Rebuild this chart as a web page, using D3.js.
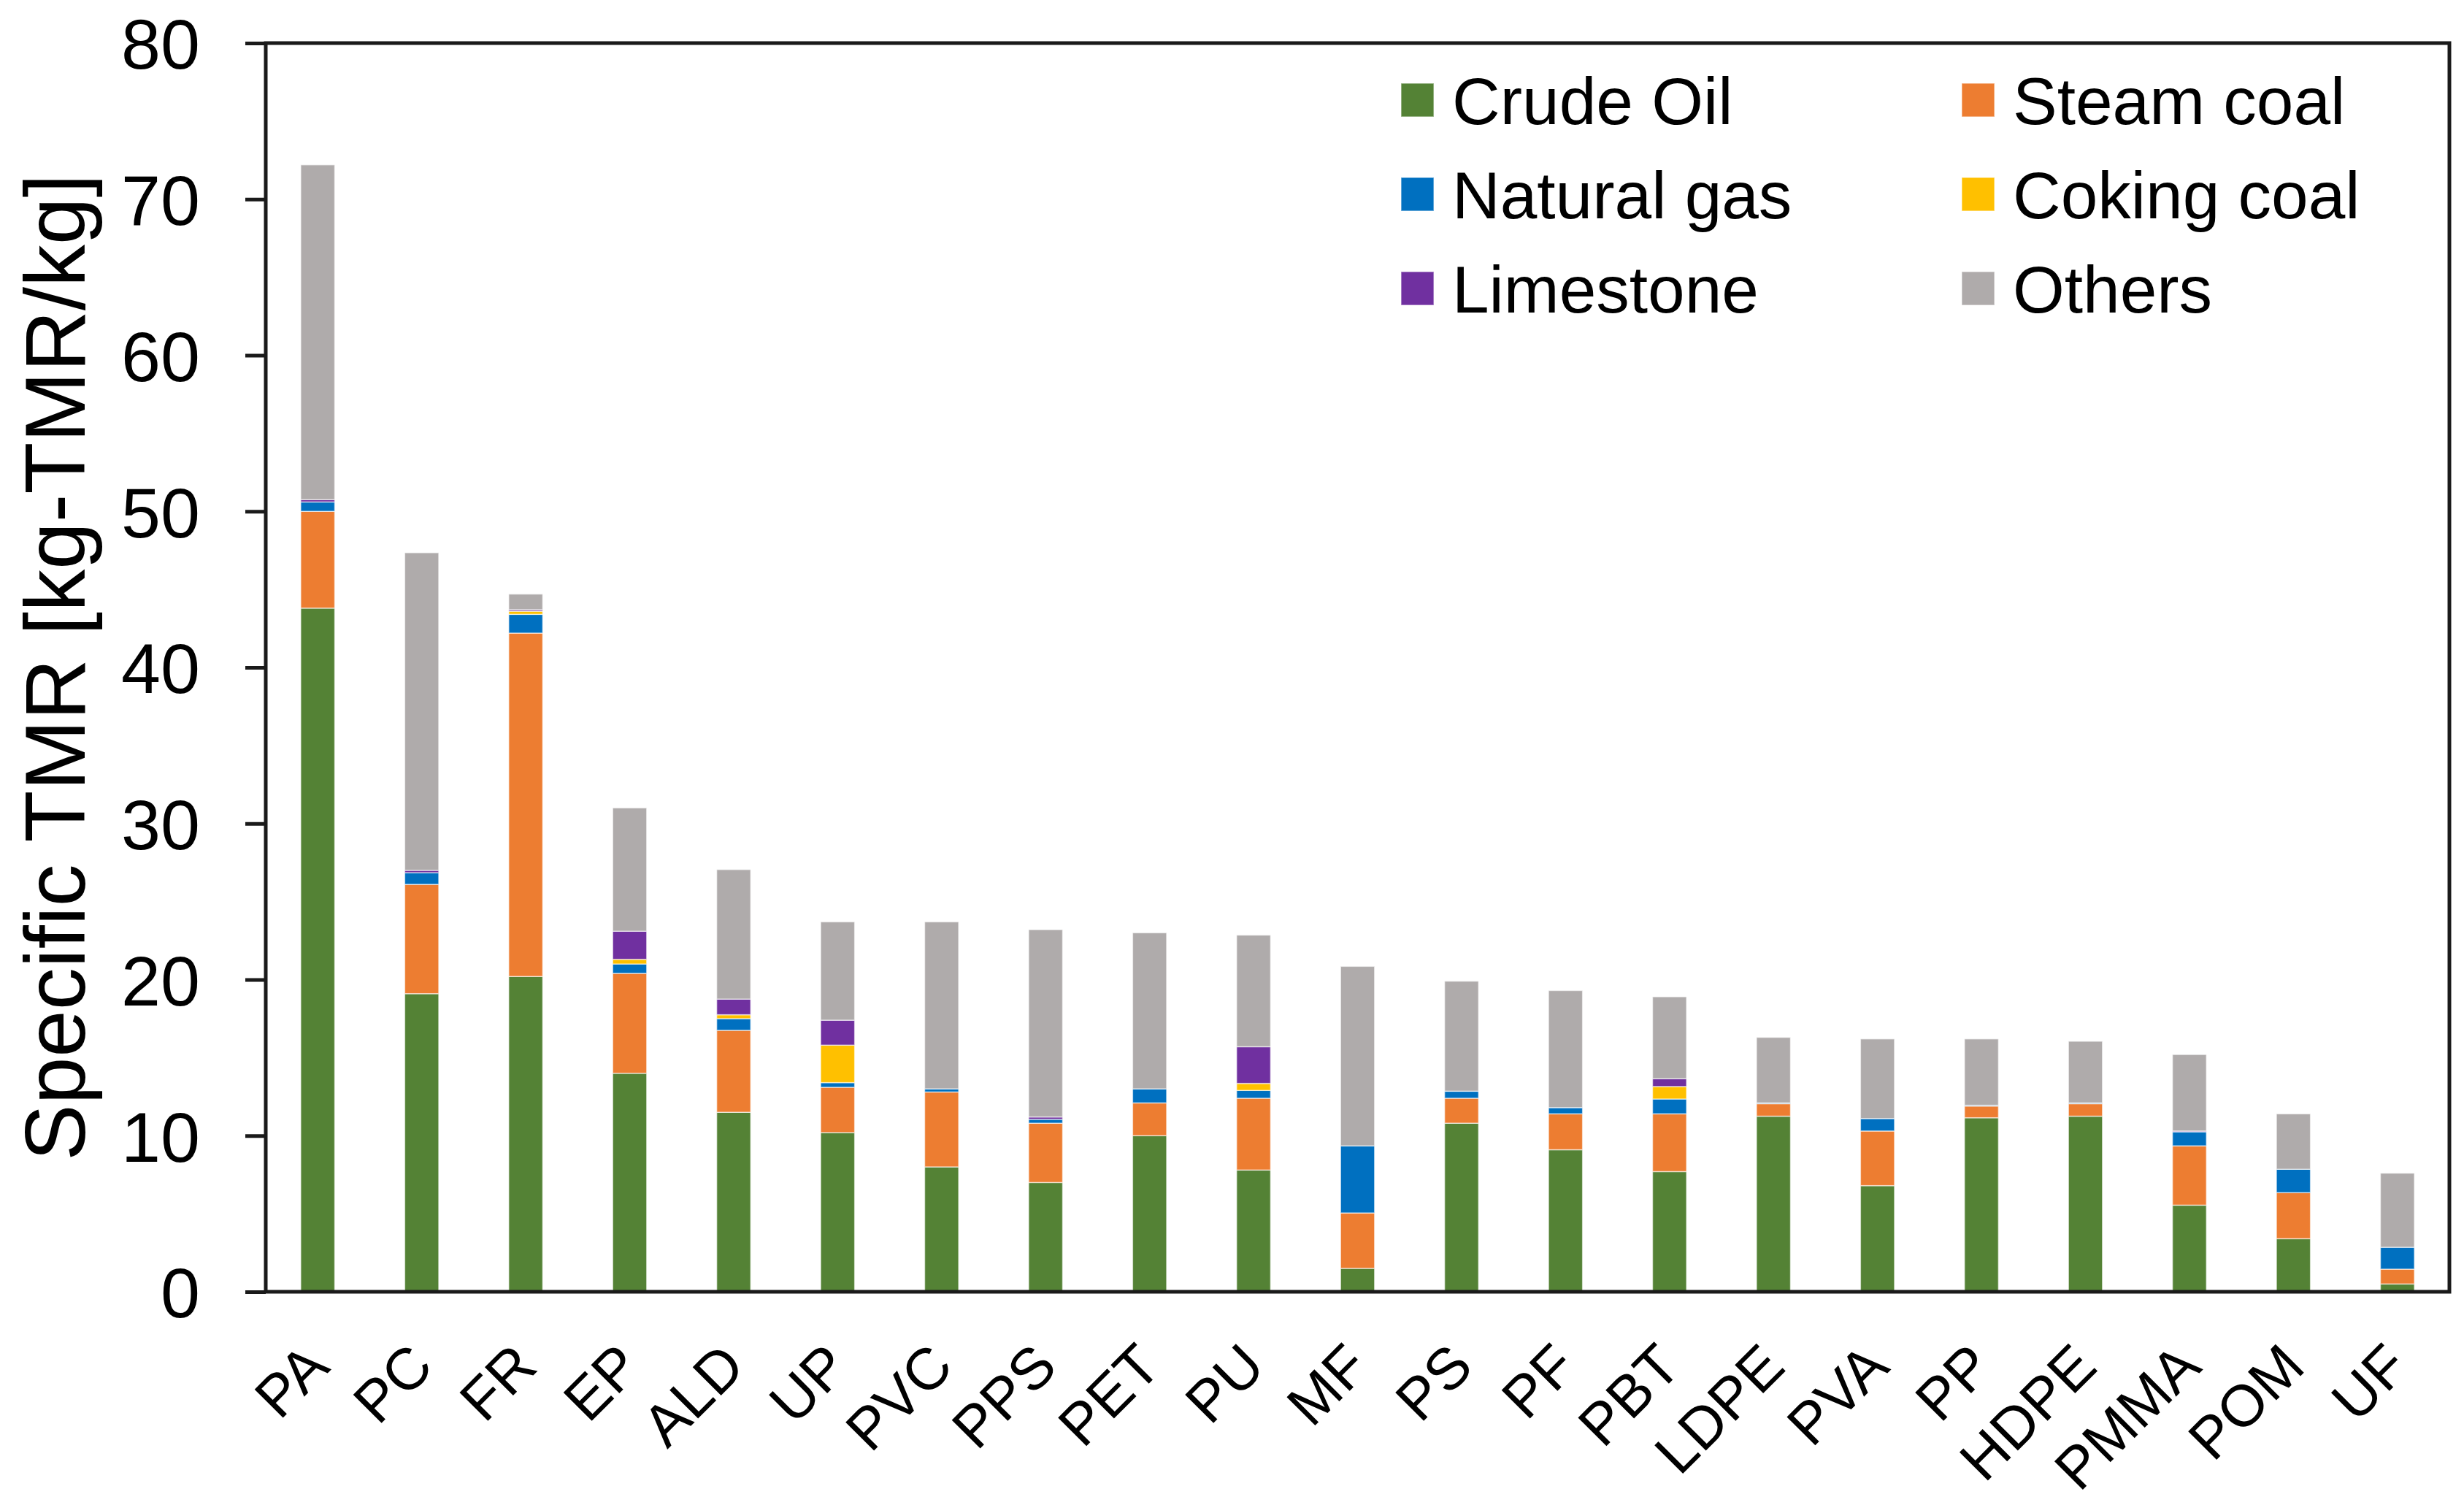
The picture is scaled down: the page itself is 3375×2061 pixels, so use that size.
<!DOCTYPE html>
<html>
<head>
<meta charset="utf-8">
<script src="https://cdn.jsdelivr.net/npm/d3@7"></script>
<style>
  html, body { margin: 0; padding: 0; background: #fff; }
  svg { display: block; }
  text { font-family: Arial, "Liberation Sans", Helvetica, sans-serif; fill: #000; }
</style>
</head>
<body>
<svg id="chart" width="3375" height="2061"></svg>
<script>
const categories = ["PA","PC","FR","EP","ALD","UP","PVC","PPS","PET","PU","MF","PS","PF","PBT","LDPE","PVA","PP","HDPE","PMMA","POM","UF"];
const seriesNames = ["Crude Oil","Steam coal","Natural gas","Coking coal","Limestone","Others"];
const crudeOil   = [43.8,19.1,20.2,14.0,11.5,10.2,8.0,7.0,10.0,7.8,1.5,10.8,9.1,7.7,11.25,6.8,11.15,11.25,5.55,3.4,0.5];
const steamCoal  = [6.2,7.0,22.0,6.4,5.25,2.9,4.8,3.8,2.1,4.6,3.55,1.6,2.3,3.7,0.8,3.5,0.75,0.8,3.8,2.95,0.95];
const naturalGas = [0.6,0.75,1.2,0.6,0.75,0.3,0.2,0.25,0.9,0.5,4.3,0.45,0.4,0.95,0.05,0.8,0.05,0.05,0.9,1.5,1.4];
const cokingCoal = [0,0,0.2,0.3,0.25,2.4,0,0,0,0.45,0,0,0,0.8,0,0,0,0,0,0,0];
const limestone  = [0.15,0.15,0.1,1.8,1.0,1.6,0,0.15,0,2.35,0,0,0,0.5,0,0,0,0,0.05,0,0];
const others     = [21.45,20.35,1.0,7.9,8.3,6.3,10.7,12.0,10.0,7.15,11.5,7.05,7.5,5.25,4.2,5.1,4.25,3.95,4.9,3.55,4.75];
const yTicks = [0,10,20,30,40,50,60,70,80];
const colors = ["#548235","#ED7D31","#0070C0","#FFC000","#7030A0","#AFABAB"];
const yTitle = "Specific TMR [kg-TMR/kg]";

const seriesValues = [crudeOil, steamCoal, naturalGas, cokingCoal, limestone, others];
const rows = categories.map((c, i) => {
  const r = { cat: c };
  seriesNames.forEach((s, k) => r[s] = seriesValues[k][i]);
  return r;
});

const svg = d3.select("#chart");
const plotLeft = 364, plotRight = 3355, plotTop = 59, plotBottom = 1769;

const x = d3.scaleBand().domain(categories).range([plotLeft, plotRight]).paddingInner(0.673).paddingOuter(0.3365);
const y = d3.scaleLinear().domain([0, 80]).range([plotBottom, plotTop]);

const stacked = d3.stack().keys(seriesNames)(rows);

const gBars = svg.append("g");
stacked.forEach((layer, k) => {
  gBars.append("g")
    .attr("fill", colors[k])
    .selectAll("rect")
    .data(layer.filter(d => d[1] - d[0] > 0))
    .join("rect")
    .attr("x", d => x(d.data.cat))
    .attr("width", x.bandwidth())
    .attr("y", d => y(d[1]))
    .attr("height", d => y(d[0]) - y(d[1]))
    .attr("stroke", "#ffffff")
    .attr("stroke-opacity", 0.6)
    .attr("stroke-width", 1.5);
});

const axisColor = "#1a1a1a";
const yAxis = d3.axisLeft(y).tickValues(yTicks).tickSize(28).tickPadding(62).tickFormat(d3.format("d"));
const gy = svg.append("g").attr("transform", `translate(${plotLeft},0)`).call(yAxis);
gy.select(".domain").remove();
gy.selectAll(".tick line").attr("stroke", axisColor).attr("stroke-width", 5);
gy.selectAll(".tick text").attr("font-size", 97).attr("font-family", "Arial, 'Liberation Sans', sans-serif").attr("fill", "#000").attr("dy", "0.36em");

svg.append("rect")
  .attr("x", plotLeft).attr("y", plotTop)
  .attr("width", plotRight - plotLeft).attr("height", plotBottom - plotTop)
  .attr("fill", "none").attr("stroke", axisColor).attr("stroke-width", 5);

const xAxis = d3.axisBottom(x).tickSize(0).tickPadding(0);
const gx = svg.append("g").attr("transform", `translate(0,${plotBottom})`).call(xAxis);
gx.select(".domain").remove();
gx.selectAll(".tick text")
  .attr("font-size", 80)
  .attr("font-family", "Arial, 'Liberation Sans', sans-serif")
  .attr("fill", "#000")
  .attr("text-anchor", "end")
  .attr("dy", 0)
  .attr("y", 0)
  .attr("transform", "translate(19,106) rotate(-45)");

svg.append("text")
  .attr("transform", `translate(116,${(plotTop + plotBottom) / 2}) rotate(-90)`)
  .attr("text-anchor", "middle")
  .attr("font-size", 116)
  .text(yTitle);

const legendCols = [1919, 2687];
const legendRows = [137, 266, 395];
const lg = svg.append("g");
seriesNames.forEach((s, k) => {
  const cx = legendCols[k % 2], cy = legendRows[Math.floor(k / 2)];
  lg.append("rect").attr("x", cx).attr("y", cy - 23).attr("width", 45).attr("height", 46)
    .attr("fill", colors[k]).attr("stroke", "#ffffff").attr("stroke-opacity", 0.5).attr("stroke-width", 1.5);
  lg.append("text").attr("x", cx + 70).attr("y", cy).attr("dy", "0.36em")
    .attr("font-size", 91).text(s);
});
</script>
</body>
</html>
